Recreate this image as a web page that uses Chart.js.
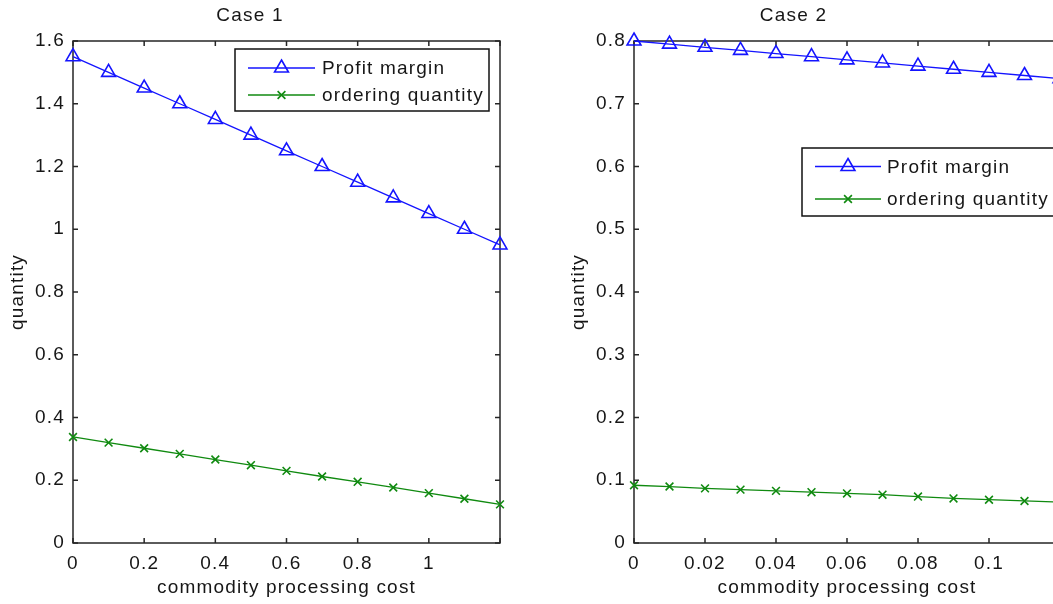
<!DOCTYPE html>
<html>
<head>
<meta charset="utf-8">
<script src="https://cdn.jsdelivr.net/npm/chart.js@4.4.1/dist/chart.umd.min.js"></script>
<style>
  html, body { margin: 0; padding: 0; background: #fff; overflow: hidden; width: 1053px; height: 604px; }
  canvas { position: absolute; top: 0; }
  #c1 { left: 0; }
  #c2 { left: 527px; }
</style>
</head>
<body>
<canvas id="c1" width="520" height="604"></canvas>
<canvas id="c2" width="560" height="604"></canvas>
<script>
// ---- data ----
const seriesNames = ['Profit margin', 'ordering quantity'];

const costCase1   = [0, 0.1, 0.2, 0.3, 0.4, 0.5, 0.6, 0.7, 0.8, 0.9, 1.0, 1.1, 1.2];
const profitCase1 = [1.55, 1.50, 1.45, 1.40, 1.35, 1.30, 1.25, 1.20, 1.15, 1.10, 1.05, 1.00, 0.95];
const orderCase1  = [0.338, 0.320, 0.302, 0.284, 0.266, 0.248, 0.230, 0.212, 0.195, 0.177, 0.159, 0.141, 0.123];

const costCase2   = [0, 0.01, 0.02, 0.03, 0.04, 0.05, 0.06, 0.07, 0.08, 0.09, 0.10, 0.11, 0.12];
const profitCase2 = [0.800, 0.795, 0.790, 0.785, 0.780, 0.775, 0.770, 0.765, 0.760, 0.755, 0.750, 0.745, 0.740];
const orderCase2  = [0.092, 0.090, 0.087, 0.085, 0.083, 0.081, 0.079, 0.077, 0.074, 0.071, 0.069, 0.067, 0.065];

// axis ranges and tick steps
const xRange1 = [0, 1.2],  xStep1 = 0.2,  yRange1 = [0, 1.6], yStep1 = 0.2;
const xRange2 = [0, 0.12], xStep2 = 0.02, yRange2 = [0, 0.8], yStep2 = 0.1;
const hiddenXLabels1 = [1.2];
const hiddenXLabels2 = [0.12];

// ---- styling ----
const FONT = '"Liberation Sans", Arial, Helvetica, sans-serif';
const FONT_SIZE = 19;
const TEXT = '#161616';
const AXIS = '#262626';
const BLUE = '#1414ff';
const GREEN = '#108a10';
Chart.defaults.font.family = FONT;
Chart.defaults.font.size = FONT_SIZE;
Chart.defaults.color = TEXT;

const fmt = v => String(Number(v.toFixed(6)));

function drawMarker(ctx, style, x, y, r) {
  ctx.beginPath();
  if (style === 'triangle') {
    let rad = 0;
    ctx.moveTo(x + Math.sin(rad) * r, y - Math.cos(rad) * r);
    rad += 2 * Math.PI / 3;
    ctx.lineTo(x + Math.sin(rad) * r, y - Math.cos(rad) * r);
    rad += 2 * Math.PI / 3;
    ctx.lineTo(x + Math.sin(rad) * r, y - Math.cos(rad) * r);
    ctx.closePath();
  } else {
    const d = r * Math.SQRT1_2;
    ctx.moveTo(x - d, y - d); ctx.lineTo(x + d, y + d);
    ctx.moveTo(x - d, y + d); ctx.lineTo(x + d, y - d);
  }
  ctx.stroke();
}

// spaced lettering used for all chart text
const spacing = {
  id: 'spacing',
  beforeDraw(chart) { chart.ctx.letterSpacing = '1.2px'; }
};

// axes box with inward tick marks on all four sides
const frame = {
  id: 'frame',
  beforeDatasetsDraw(chart, args, o) {
    const { ctx, chartArea: a, scales } = chart;
    const L = o.tickLength;
    ctx.save();
    ctx.strokeStyle = o.color;
    ctx.lineWidth = o.width;
    ctx.beginPath();
    scales.x.ticks.forEach(t => {
      const px = scales.x.getPixelForValue(t.value);
      ctx.moveTo(px, a.bottom); ctx.lineTo(px, a.bottom - L);
      ctx.moveTo(px, a.top);    ctx.lineTo(px, a.top + L);
    });
    scales.y.ticks.forEach(t => {
      const py = scales.y.getPixelForValue(t.value);
      ctx.moveTo(a.left, py);  ctx.lineTo(a.left + L, py);
      ctx.moveTo(a.right, py); ctx.lineTo(a.right - L, py);
    });
    ctx.stroke();
    ctx.strokeRect(a.left, a.top, a.right - a.left, a.bottom - a.top);
    ctx.restore();
  }
};

// boxed legend placed inside the axes
const boxLegend = {
  id: 'boxLegend',
  afterDraw(chart, args, o) {
    const { ctx, chartArea: a } = chart;
    const x = a.left + o.left, y = a.top + o.top;
    ctx.save();
    ctx.fillStyle = '#fff';
    ctx.fillRect(x, y, o.width, o.height);
    ctx.strokeStyle = o.borderColor;
    ctx.lineWidth = o.borderWidth;
    ctx.strokeRect(x, y, o.width, o.height);
    chart.data.datasets.forEach((ds, i) => {
      const cy = y + o.rows[i];
      ctx.strokeStyle = ds.borderColor;
      ctx.lineWidth = ds.borderWidth;
      ctx.beginPath();
      ctx.moveTo(x + o.lineFrom, cy); ctx.lineTo(x + o.lineTo, cy);
      ctx.stroke();
      ctx.lineWidth = ds.pointBorderWidth;
      drawMarker(ctx, ds.pointStyle, x + o.marker, cy, ds.pointRadius);
      ctx.fillStyle = TEXT;
      ctx.font = FONT_SIZE + 'px ' + FONT;
      ctx.textBaseline = 'middle';
      ctx.textAlign = 'left';
      ctx.fillText(ds.label, x + o.textX, cy + 1);
    });
    ctx.restore();
  }
};

function makeSeries(xs, ys, name, color, style, radius) {
  return {
    label: name,
    data: xs.map((x, i) => ({ x, y: ys[i] })),
    borderColor: color,
    borderWidth: 1.3,
    pointStyle: style,
    pointRadius: radius,
    pointHoverRadius: radius,
    pointBorderColor: color,
    pointBackgroundColor: 'rgba(0,0,0,0)',
    pointBorderWidth: 1.6,
    tension: 0,
    clip: false
  };
}

function makeChart(id, cfg) {
  return new Chart(document.getElementById(id), {
    type: 'line',
    data: {
      datasets: [
        makeSeries(cfg.xs, cfg.profit, seriesNames[0], BLUE, 'triangle', 8),
        makeSeries(cfg.xs, cfg.order, seriesNames[1], GREEN, 'crossRot', 5.5)
      ]
    },
    options: {
      responsive: false,
      animation: false,
      layout: { padding: { left: 0, right: cfg.padRight, top: 0, bottom: 0 } },
      plugins: {
        legend: { display: false },
        tooltip: { enabled: false },
        title: {
          display: true,
          text: cfg.title,
          color: TEXT,
          font: { size: FONT_SIZE, weight: 'normal' },
          padding: { top: 4.6, bottom: 13.6 }
        },
        frame: { color: AXIS, width: 1.5, tickLength: 5 },
        boxLegend: Object.assign({ borderColor: '#111', borderWidth: 1.5 }, cfg.legend)
      },
      scales: {
        x: {
          type: 'linear',
          min: cfg.xRange[0], max: cfg.xRange[1],
          grid: { display: false, drawTicks: false },
          border: { display: false },
          ticks: {
            stepSize: cfg.xStep,
            padding: 9,
            color: TEXT,
            maxRotation: 0,
            autoSkip: false,
            callback: v => (cfg.hiddenX || []).some(h => Math.abs(h - v) < 1e-9) ? '' : fmt(v)
          },
          title: { display: true, text: 'commodity processing cost', color: TEXT, padding: { top: 0, bottom: 5 } },
          afterFit: s => { s.height = 61; }
        },
        y: {
          type: 'linear',
          min: cfg.yRange[0], max: cfg.yRange[1],
          grid: { display: false, drawTicks: false },
          border: { display: false },
          ticks: { stepSize: cfg.yStep, padding: 8, color: TEXT, callback: v => fmt(v) },
          title: { display: true, text: 'quantity', color: TEXT, padding: { top: cfg.yTitlePad, bottom: 0 } },
          afterFit: s => { s.width = cfg.yAxisWidth; }
        }
      }
    },
    plugins: [spacing, frame, boxLegend]
  });
}

makeChart('c1', {
  title: 'Case 1',
  xs: costCase1, profit: profitCase1, order: orderCase1,
  xRange: xRange1, xStep: xStep1, yRange: yRange1, yStep: yStep1,
  hiddenX: hiddenXLabels1,
  padRight: 20, yAxisWidth: 73, yTitlePad: 6,
  legend: { left: 162, top: 8, width: 254, height: 62, rows: [19, 46], lineFrom: 13, lineTo: 80, marker: 46.5, textX: 87 }
});

makeChart('c2', {
  title: 'Case 2',
  xs: costCase2, profit: profitCase2, order: orderCase2,
  xRange: xRange2, xStep: xStep2, yRange: yRange2, yStep: yStep2,
  hiddenX: hiddenXLabels2,
  padRight: 27, yAxisWidth: 107, yTitlePad: 40,
  legend: { left: 168, top: 107, width: 254, height: 68, rows: [18.5, 51], lineFrom: 13, lineTo: 79, marker: 46, textX: 85 }
});
</script>
</body>
</html>
